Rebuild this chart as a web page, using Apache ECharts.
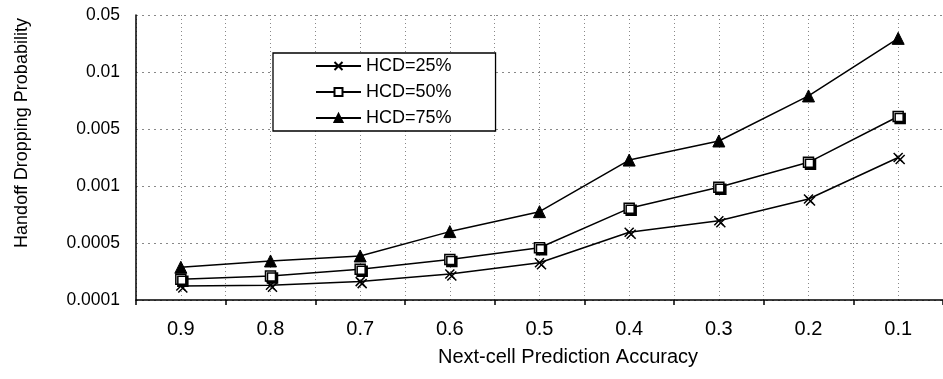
<!DOCTYPE html>
<html>
<head>
<meta charset="utf-8">
<script src="https://cdn.jsdelivr.net/npm/echarts@6/dist/echarts.min.js"></script>
<style>
html,body{margin:0;padding:0;background:#fff;}
#chart{width:943px;height:379px;}
</style>
</head>
<body>
<div id="chart"></div>
<script>
// ---- data ----
const categories = ['0.9','0.8','0.7','0.6','0.5','0.4','0.3','0.2','0.1'];
const yTickValues = [0.0001, 0.0005, 0.001, 0.005, 0.01, 0.05];
const yTickLabels = ['0.0001','0.0005','0.001','0.005','0.01','0.05'];
const seriesNames = ['HCD=25%','HCD=50%','HCD=75%'];
const hcd25 = [0.000198, 0.000203, 0.000229, 0.000282, 0.000362, 0.000594, 0.000696, 0.000886, 0.0030];
const hcd50 = [0.000245, 0.000268, 0.000315, 0.000385, 0.000467, 0.000804, 0.000989, 0.00266, 0.0061];
const hcd75 = [0.00033, 0.000374, 0.000409, 0.0006, 0.000775, 0.00282, 0.00416, 0.0079, 0.0336];

// piecewise axis: equal spacing between consecutive tick values
function toPos(v){
  for (let i = 0; i < yTickValues.length - 1; i++){
    const a = yTickValues[i], b = yTickValues[i+1];
    if (v <= b || i === yTickValues.length - 2){
      return i + (v - a) / (b - a);
    }
  }
}

const chart = echarts.init(document.getElementById('chart'), null, {renderer:'canvas'});
const FONT = '"Liberation Sans", Arial, sans-serif';
const xPath = 'path://M0,0L10,10M10,0L0,10';

const option = {
  backgroundColor:'#fff',
  animation:false,
  grid:{left:136, right:-10, top:15, bottom:79, containLabel:false},
  legend:{
    orient:'vertical', left:273, top:53,
    backgroundColor:'#fff', borderColor:'#000', borderWidth:1.3,
    padding:[4,44,4,42],
    itemWidth:45, itemHeight:10, itemGap:8,
    textStyle:{fontFamily:FONT, fontSize:18, color:'#000'},
    data:seriesNames
  },
  xAxis:[{
    type:'category', data:categories, boundaryGap:true,
    axisLine:{lineStyle:{color:'#000', width:1.5}},
    axisTick:{show:true, length:5, lineStyle:{color:'#000', width:1.5}},
    axisLabel:{fontFamily:FONT, fontSize:20, color:'#000', margin:19},
    splitLine:{show:false}
  },{
    type:'value', min:0, max:18, interval:1, show:true,
    position:'bottom',
    axisLine:{show:false}, axisTick:{show:false}, axisLabel:{show:false},
    splitLine:{show:true, lineStyle:{color:'#888', type:[1,3], width:1}}
  }],
  yAxis:{
    type:'value', min:0, max:5, interval:1,
    axisLine:{show:true, lineStyle:{color:'#000', width:1.5}},
    axisTick:{show:false},
    axisLabel:{fontFamily:FONT, fontSize:17.5, color:'#000', margin:16,
      formatter:function(v){ return yTickLabels[Math.round(v)]; }},
    splitLine:{show:true, lineStyle:{color:'#888', type:[2,4], width:1}}
  },
  graphic:[
    {type:'text', x:22, y:133, rotation:Math.PI/2,
      style:{text:'Handoff Dropping Probability', fontFamily:FONT, fontSize:18, fill:'#000',
        textAlign:'center', textVerticalAlign:'middle'}},
    {type:'text', x:568, y:357,
      style:{text:'Next-cell Prediction Accuracy', fontFamily:FONT, fontSize:20, fill:'#000',
        textAlign:'center', textVerticalAlign:'middle'}}
  ],
  series:[
    {name:seriesNames[0], type:'line', data:hcd25.map(toPos),
      symbol:xPath, symbolSize:9,
      lineStyle:{color:'#000', width:1.5},
      itemStyle:{color:'rgba(0,0,0,0)', borderColor:'#000', borderWidth:1.5,
        shadowColor:'#000', shadowOffsetX:2, shadowOffsetY:2, shadowBlur:0}},
    {name:seriesNames[1], type:'line', data:hcd50.map(toPos),
      symbol:'rect', symbolSize:10,
      lineStyle:{color:'#000', width:1.5},
      itemStyle:{color:'#fff', borderColor:'#000', borderWidth:1.5,
        shadowColor:'#000', shadowOffsetX:2, shadowOffsetY:2, shadowBlur:0}},
    {name:seriesNames[2], type:'line', data:hcd75.map(toPos),
      symbol:'triangle', symbolSize:12,
      lineStyle:{color:'#000', width:1.5},
      itemStyle:{color:'#000', borderColor:'#000', borderWidth:1}}
  ]
};
chart.setOption(option);
</script>
</body>
</html>
